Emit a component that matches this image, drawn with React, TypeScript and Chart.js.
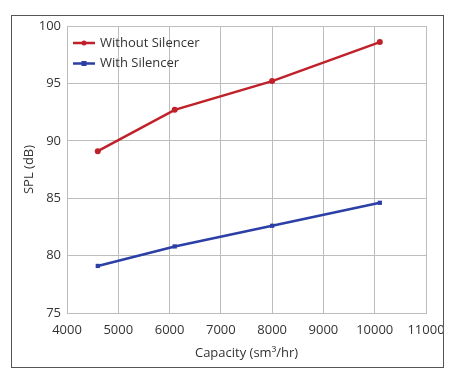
import React, { useEffect, useRef } from "react";
import { Chart, registerables } from "chart.js";
Chart.register(...registerables);

const capacityWithout = [4600, 6100, 8000, 10100];
const splWithout = [89.1, 92.7, 95.2, 98.6];
const capacityWith = [4600, 6100, 8000, 10100];
const splWith = [79.1, 80.8, 82.6, 84.6];
const seriesNames = ["Without Silencer", "With Silencer"];
const xTitle = "Capacity (sm³/hr)";
const yTitle = "SPL (dB)";

const RED = "#c0202a";
const BLUE = "#2b3fa6";
const FONT = "'Open Sans', 'Liberation Sans', sans-serif";

const frameAndLegend = {
  id: "frameAndLegend",
  afterDraw(chart: any) {
    const ctx = chart.ctx;
    ctx.save();
    ctx.strokeStyle = "#555";
    ctx.lineWidth = 1;
    ctx.strokeRect(11.5, 15.5, 432, 352);
    const items = [
      { label: seriesNames[0], color: RED, style: "circle" },
      { label: seriesNames[1], color: BLUE, style: "rect" },
    ];
    const x0 = chart.chartArea.left + 6;
    items.forEach((it, i) => {
      const y = chart.chartArea.top + 17 + i * 20.5;
      ctx.strokeStyle = it.color;
      ctx.lineWidth = 2.5;
      ctx.beginPath();
      ctx.moveTo(x0, y);
      ctx.lineTo(x0 + 22, y);
      ctx.stroke();
      ctx.fillStyle = it.color;
      if (it.style === "circle") {
        ctx.beginPath();
        ctx.arc(x0 + 11, y, 2.5, 0, Math.PI * 2);
        ctx.fill();
      } else {
        ctx.fillRect(x0 + 8.5, y - 2.5, 5, 5);
      }
      ctx.fillStyle = "#333";
      ctx.font = `13px ${FONT}`;
      ctx.textBaseline = "middle";
      ctx.textAlign = "left";
      ctx.fillText(it.label, x0 + 27, y);
    });
    ctx.restore();
  },
};

export default function App() {
  const ref = useRef<HTMLCanvasElement>(null);
  useEffect(() => {
    const chart = new Chart(ref.current!, {
      type: "scatter",
      data: {
        datasets: [
          {
            label: seriesNames[0],
            data: capacityWithout.map((x, i) => ({ x, y: splWithout[i] })),
            showLine: true,
            borderColor: RED,
            backgroundColor: RED,
            borderWidth: 2.5,
            pointStyle: "circle",
            pointRadius: 3,
            pointBorderWidth: 0,
            pointHoverRadius: 3,
          },
          {
            label: seriesNames[1],
            data: capacityWith.map((x, i) => ({ x, y: splWith[i] })),
            showLine: true,
            borderColor: BLUE,
            backgroundColor: BLUE,
            borderWidth: 2.5,
            pointStyle: "rect",
            pointRadius: 3,
            pointBorderWidth: 0,
            pointHoverRadius: 3,
          },
        ],
      },
      options: {
        animation: false,
        responsive: false,
        layout: { padding: { left: 11, right: 28, top: 26, bottom: 19 } },
        plugins: { legend: { display: false }, tooltip: { enabled: false } },
        scales: {
          x: {
            type: "linear",
            min: 4000,
            max: 11000,
            ticks: { stepSize: 1000, color: "#333", font: { family: FONT, size: 13 }, maxRotation: 0, padding: 9, callback: (v: any) => String(v) },
            grid: { color: "#bdbdbd", drawTicks: false },
            border: { color: "#bdbdbd" },
            title: { display: true, text: xTitle, color: "#333", font: { family: FONT, size: 13 }, padding: { top: 0, bottom: 0 } },
            afterFit: (s: any) => { s.height = 48; },
          },
          y: {
            min: 75,
            max: 100,
            ticks: { stepSize: 5, color: "#333", font: { family: FONT, size: 13 }, padding: 6, callback: (v: any) => String(v) },
            grid: { color: "#bdbdbd", drawTicks: false },
            border: { color: "#bdbdbd" },
            title: { display: true, text: yTitle, color: "#333", font: { family: FONT, size: 13 }, padding: { top: 10, bottom: 0 } },
            afterFit: (s: any) => { s.width = 56; },
          },
        },
      },
      plugins: [frameAndLegend],
    });
    return () => chart.destroy();
  }, []);
  return (
    <div style={{ position: "fixed", left: 0, top: 0, width: 454, height: 380, background: "#fff" }}>
      <canvas ref={ref} width={454} height={380} />
    </div>
  );
}
